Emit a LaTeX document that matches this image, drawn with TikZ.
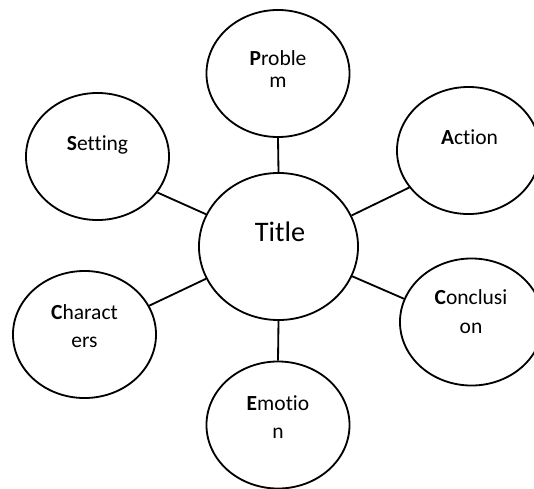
\documentclass[tikz,border=0pt]{standalone}
\usepackage{fontspec}
\setmainfont{Carlito}[Ligatures={NoCommon,NoRare,NoContextual}]
\usetikzlibrary{shapes.geometric}

\tikzset{
  bubble/.style={draw=black, ellipse, line width=1.3pt, fill=white,
    minimum width=3.575cm, minimum height=3.175cm, inner sep=0pt},
  hub/.style={bubble, minimum width=3.975cm, minimum height=3.675cm},
  word/.style={anchor=base, align=center, inner sep=0pt,
    font=\fontsize{15.3}{20.2}\selectfont},
  spoke/.style={black, line width=1.3pt}
}

\begin{document}
\begin{tikzpicture}[x=0.025cm,y=-0.025cm]
	\useasboundingbox (0,0) rectangle (534,488);

	% the bubbles
	\node[hub] (title) at (278.5,246.5) {};
	\node[bubble] (problem) at (278,73.5) {};
	\node[bubble] (setting) at (97.5,156.5) {};
	\node[bubble] (action) at (468.5,150.5) {};
	\node[bubble] (characters) at (84.5,334.5) {};
	\node[bubble] (conclusion) at (471.5,322) {};
	\node[bubble] (emotion) at (278,425) {};

	% spokes
	\draw[spoke] (title.north) -- (problem.south);
	\draw[spoke] (title.south) -- (emotion.north);
	\draw[spoke] (title.156) -- (setting.-31.5);
	\draw[spoke] (title.-156) -- (characters.24);
	\draw[spoke] (title.23) -- (action.-148);
	\draw[spoke] (title.-22) -- (conclusion.161);

	% texts (base = last line)
	\node[word, font=\fontsize{20.1}{24}\selectfont] (titletext) at (280,241.7) {Title};
	\node[word, font=\fontsize{15.3}{15.6}\selectfont] (problemtext) at (278,87.3) {\textbf{P}roble\\m};
	\node[word] (settingtext) at (97.5,150) {\textbf{S}etting};
	\node[word] (actiontext) at (469.5,144) {\textbf{A}ction};
	\node[word, font=\fontsize{15.3}{19.9}\selectfont] (characterstext) at (84.5,347) {\textbf{C}haract\\ers};
	\node[word, font=\fontsize{15.3}{20.6}\selectfont] (conclusiontext) at (471,333) {\textbf{C}onclusi\\on};
	\node[word, font=\fontsize{15.3}{19.9}\selectfont] (emotiontext) at (278,438) {\textbf{E}motio\\n};
\end{tikzpicture}
\end{document}
